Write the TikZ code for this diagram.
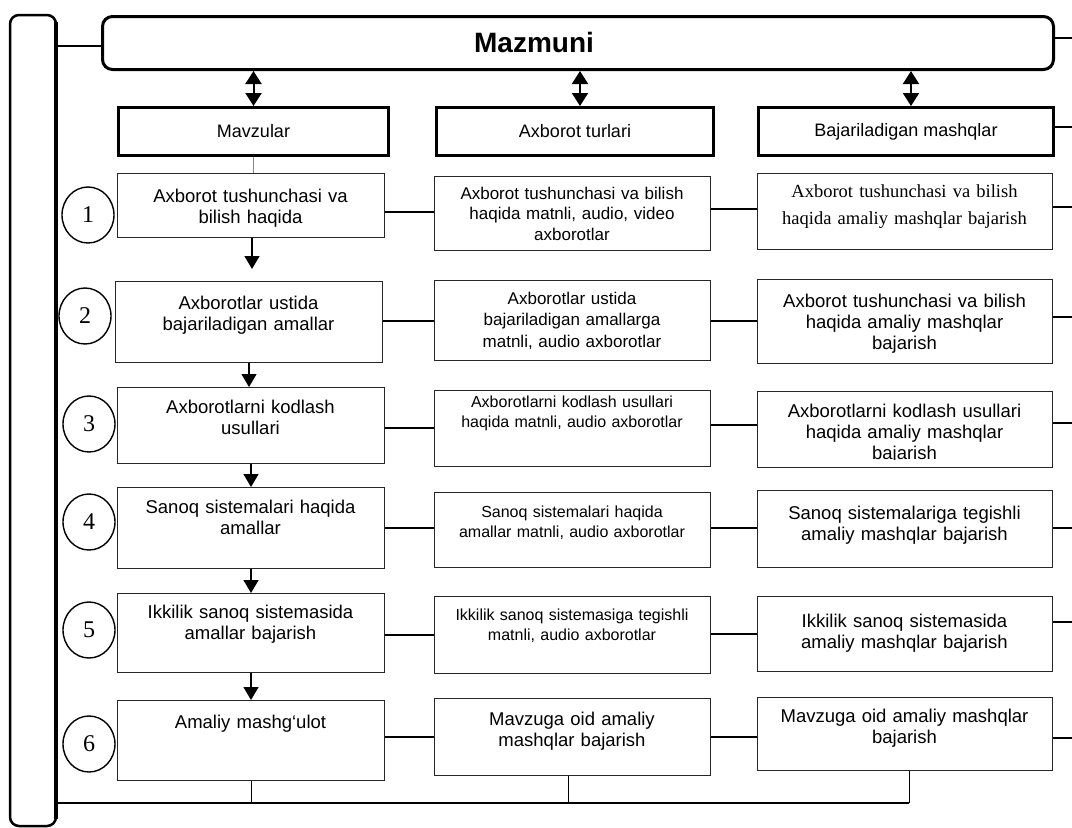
\documentclass[tikz,border=0pt]{standalone}
\usepackage{fontspec}
\setmainfont{Liberation Sans}
\newfontfamily\tms{Liberation Serif}
\usetikzlibrary{arrows.meta,shapes.geometric}

\newcommand\szA{\fontsize{18.5}{21}\selectfont}
\newcommand\szB{\fontsize{17}{20.5}\selectfont}
\newcommand\szC{\fontsize{16}{20}\selectfont}

\tikzset{
  cell/.style args={#1x#2}{draw=black!85, line width=1pt, anchor=north west, inner sep=0pt, minimum width=#1, minimum height=#2},
  head/.style args={#1x#2}{draw, line width=3pt, anchor=north west, inner sep=0pt, minimum width=#1, minimum height=#2, font=\fontsize{18}{20}\selectfont},
  txt/.style={anchor=base, inner sep=0pt, align=center, text width=#1},
  num/.style={draw, line width=1.4pt, ellipse, inner sep=0pt, minimum width=52, minimum height=56, font=\tms\fontsize{24}{24}\selectfont},
  link/.style={line width=2.4pt},
  drop/.style={line width=1pt},
  flow/.style={line width=1.3pt, -{Triangle[width=15pt,length=13pt]}},
  both/.style={line width=2pt, {Triangle[width=16pt,length=13pt]}-{Triangle[width=16pt,length=13pt]}}
}

\begin{document}
\begin{tikzpicture}[x=1pt,y=1pt,yscale=-1]
\useasboundingbox (0,0) rectangle (1072,828);
\coordinate (rim) at (1072,0);
\coordinate (foot) at (909,803);

%Shape: side bar and title
\node[draw, line width=2.5pt, rounded corners=9, outer sep=0pt, anchor=north west, minimum width=46, minimum height=811] (bar) at (10,15) {};
\draw[line width=4pt] (bar.east |- 0,22) -- (bar.east |- 0,819);
\node[draw, line width=3pt, rounded corners=10, anchor=north west, minimum width=951, minimum height=53] (title) at (101,15) {};
\node[anchor=base, inner sep=0pt, font=\bfseries\fontsize{28}{30}\selectfont] (ttl) at (534,52) {Mazmuni};
\draw[link] (bar.east |- 0,46) -- (title.west |- 0,46);
\draw[link] (title.east |- 0,38) -- (rim |- 0,38);

%Shape: column heads
\node[head=270x48] (hd1) at (117,106) {Mavzular};
\node[head=277x48] (hd2) at (435,106) {Axborot turlari};
\node[head=295x48] (hd3) at (757,106) {Bajariladigan mashqlar};
\draw[both] (title.south -| hd1.north) -- (hd1.north);
\draw[both] (title.south -| 580,0) -- (hd2.north -| 580,0);
\draw[both] (title.south -| 911,0) -- (hd3.north -| 911,0);
\draw[link] (hd3.east |- 0,127) -- (rim |- 0,127);

%Shape: boxes, first column
\node[cell=267x64] (c1r1) at (117,173) {};
\node[cell=267x81] (c1r2) at (115,281) {};
\node[cell=267x76] (c1r3) at (117,387) {};
\node[cell=267x81] (c1r4) at (117,487) {};
\node[cell=267x79] (c1r5) at (117,593) {};
\node[cell=267x80] (c1r6) at (117,700) {};
%Shape: boxes, second column
\node[cell=276x74] (c2r1) at (434,176) {};
\node[cell=276x80] (c2r2) at (434,280) {};
\node[cell=276x76] (c2r3) at (434,390) {};
\node[cell=276x75] (c2r4) at (434,492) {};
\node[cell=276x77] (c2r5) at (434,596) {};
\node[cell=276x77] (c2r6) at (434,698) {};
%Shape: boxes, third column
\node[cell=295x76] (c3r1) at (757,173) {};
\node[cell=295x84] (c3r2) at (757,279) {};
\node[cell=295x76] (c3r3) at (757,391) {};
\node[cell=295x77] (c3r4) at (757,490) {};
\node[cell=295x75] (c3r5) at (757,596) {};
\node[cell=295x73] (c3r6) at (757,697) {};

%Shape: circles
\node[num] (n1) at (88,215) {1};
\node[num] (n2) at (85,316) {2};
\node[num] (n3) at (89,424) {3};
\node[num] (n4) at (89,522) {4};
\node[num] (n5) at (89,630) {5};
\node[num] (n6) at (89,744) {6};

% Text Node
\node[txt=260, font=\szA] (t11) at (250.5,202) {Axborot tushunchasi va\\bilish haqida};
\node[txt=260, font=\szA] (t12) at (248.5,309) {Axborotlar ustida\\bajariladigan amallar};
\node[txt=260, font=\szA] (t13) at (250.5,413) {Axborotlarni kodlash\\usullari};
\node[txt=260, font=\szA] (t14) at (250.5,513) {Sanoq sistemalari haqida\\amallar};
\node[txt=260, font=\szA] (t15) at (250.5,618) {Ikkilik sanoq sistemasida\\amallar bajarish};
\node[txt=260, font=\szA] (t16) at (250.5,728) {Amaliy mashg‘ulot};
% Text Node
\node[txt=270, font=\szB] (t21) at (572,199) {Axborot tushunchasi va bilish\\haqida matnli, audio, video\\axborotlar};
\node[txt=270, font=\fontsize{17}{21.5}\selectfont] (t22) at (572,304) {Axborotlar ustida\\bajariladigan amallarga\\matnli, audio axborotlar};
\node[txt=270, font=\szC] (t23) at (572,407) {Axborotlarni kodlash usullari\\haqida matnli, audio axborotlar};
\node[txt=270, font=\szC] (t24) at (572,517) {Sanoq sistemalari haqida\\amallar matnli, audio axborotlar};
\node[txt=270, font=\szC] (t25) at (572,620) {Ikkilik sanoq sistemasiga tegishli\\matnli, audio axborotlar};
\node[txt=270, font=\szA] (t26) at (572,725) {Mavzuga oid amaliy\\mashqlar bajarish};
% Text Node
\node[txt=290, font=\tms\fontsize{18.5}{27}\selectfont] (t31) at (904.5,197) {Axborot tushunchasi va bilish\\haqida amaliy mashqlar bajarish};
\node[txt=290, font=\szA] (t32) at (904.5,307) {Axborot tushunchasi va bilish\\haqida amaliy mashqlar\\bajarish};
\begin{scope}
\clip (757,391) rectangle (1052,459);
\node[txt=290, font=\szA] (t33) at (904.5,417) {Axborotlarni kodlash usullari\\haqida amaliy mashqlar\\bajarish};
\end{scope}
\node[txt=290, font=\szA] (t34) at (904.5,519) {Sanoq sistemalariga tegishli\\amaliy mashqlar bajarish};
\node[txt=290, font=\szA] (t35) at (904.5,627) {Ikkilik sanoq sistemasida\\amaliy mashqlar bajarish};
\node[txt=290, font=\szA] (t36) at (904.5,722) {Mavzuga oid amaliy mashqlar\\bajarish};

%Straight Lines: first column flow
\draw[line width=1pt, color={rgb,255:red,70;green,150;blue,225}] (hd1.south) -- (hd1.south |- c1r1.north);
\draw[flow, shorten >=12pt] (c1r1.south -| 252,0) -- (c1r2.north -| 252,0);
\draw[flow] (c1r2.south) -- (c1r3.north -| c1r2.south);
\draw[flow] (c1r3.south) -- (c1r4.north);
\draw[flow] (c1r4.south) -- (c1r5.north);
\draw[flow] (c1r5.south) -- (c1r6.north);

%Straight Lines: rows
\draw[link] (c1r1.east |- 0,212) -- (c2r1.west |- 0,212);
\draw[link] (c2r1.east |- 0,209) -- (c3r1.west |- 0,209);
\draw[link] (c3r1.east |- 0,207) -- (rim |- 0,207);
\draw[link] (c1r2.east |- 0,321) -- (c2r2.west |- 0,321);
\draw[link] (c2r2.east |- 0,321) -- (c3r2.west |- 0,321);
\draw[link] (c3r2.east |- 0,317) -- (rim |- 0,317);
\draw[link] (c1r3.east |- 0,428) -- (c2r3.west |- 0,428);
\draw[link] (c2r3.east |- 0,425) -- (c3r3.west |- 0,425);
\draw[link] (c3r3.east |- 0,423) -- (rim |- 0,423);
\draw[link] (c1r4.east |- 0,528) -- (c2r4.west |- 0,528);
\draw[link] (c2r4.east |- 0,528) -- (c3r4.west |- 0,528);
\draw[link] (c3r4.east |- 0,528) -- (rim |- 0,528);
\draw[link] (c1r5.east |- 0,635) -- (c2r5.west |- 0,635);
\draw[link] (c2r5.east |- 0,634) -- (c3r5.west |- 0,634);
\draw[link] (c3r5.east |- 0,622) -- (rim |- 0,622);
\draw[link] (c1r6.east |- 0,737) -- (c2r6.west |- 0,737);
\draw[link] (c2r6.east |- 0,737) -- (c3r6.west |- 0,737);
\draw[link] (c3r6.east |- 0,738) -- (rim |- 0,738);

%Straight Lines: bottom
\draw[drop] (c1r6.south) -- (c1r6.south |- foot);
\draw[drop] (c2r6.south -| 568,0) -- (568,0 |- foot);
\draw[drop] (c3r6.south -| foot) -- (foot);
\draw[link] (bar.east |- foot) -- (foot);

\end{tikzpicture}
\end{document}
